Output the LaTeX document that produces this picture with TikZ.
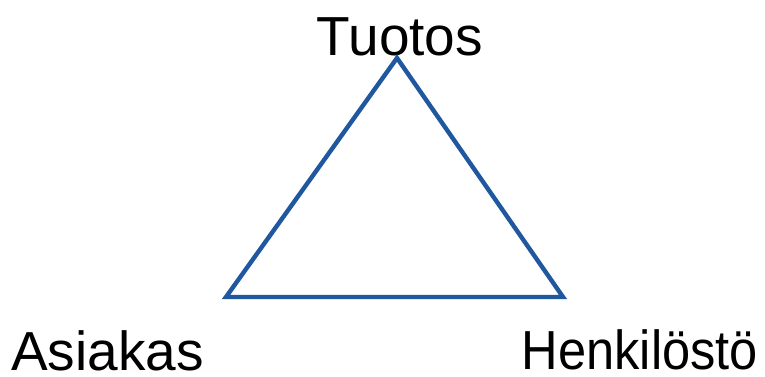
\documentclass[tikz,border=0pt]{standalone}
\usepackage{fontspec}
\setmainfont{Liberation Sans}
\usepackage{tikz}
\definecolor{edgeblue}{RGB}{31,88,158}

\begin{document}
\begin{tikzpicture}[x=1pt, y=-1pt,
  label/.style={anchor=base, inner sep=0pt, text depth=0pt, font=\fontsize{55}{60}\selectfont},
  side/.style={draw=edgeblue, line width=4.4pt, line join=miter}
]
\useasboundingbox (0,0) rectangle (765,376);
\coordinate (top) at (397,58);
\coordinate (left) at (226,297);
\coordinate (right) at (563,297);

\node[label] (tuotos) at (400,55) {Tuotos};
\node[label] (asiakas) at (107.5,370) {Asiakas};
\node[label, xscale=0.92] (henkilosto) at (640,369) {Henkilöstö};

\draw[side] (top)--(left)--(right)--cycle;
\end{tikzpicture}
\end{document}
